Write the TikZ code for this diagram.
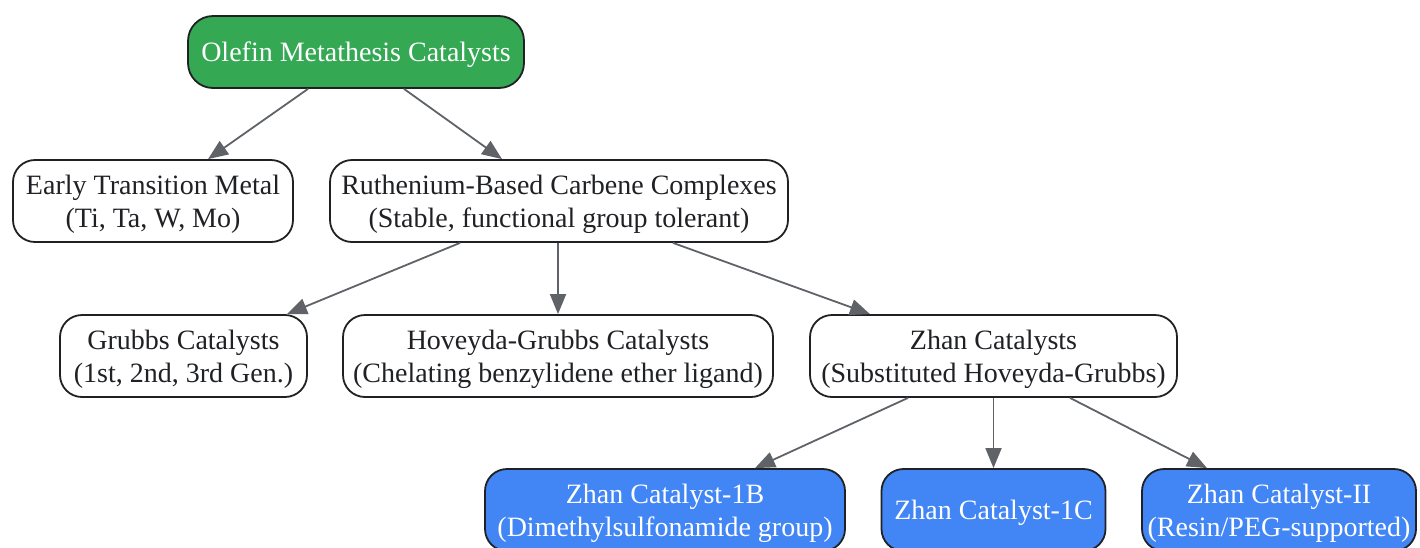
\documentclass[tikz,border=0pt]{standalone}
\usepackage{fontspec}
\setmainfont{Liberation Serif}
\usetikzlibrary{arrows.meta}
\definecolor{rootgreen}{HTML}{34A853}
\definecolor{leafblue}{HTML}{4285F4}
\definecolor{edgegray}{HTML}{5F6368}
\definecolor{bordercol}{HTML}{202124}
\definecolor{textcol}{HTML}{202124}
\newcommand{\toprl}{\rule{0pt}{26pt}}
\newcommand{\botrl}{\rule[-5pt]{0pt}{5pt}}
\tikzset{
  box/.style={draw=bordercol, line width=1.8pt, rounded corners=22pt, fill=white,
    text=textcol, align=center, inner sep=0pt,
    font=\fontsize{28}{33}\selectfont},
  rootbox/.style={box, fill=rootgreen, text=white, rounded corners=25pt},
  leafbox/.style={box, fill=leafblue, text=white},
  conn/.style={draw=edgegray, line width=1.8pt, -{Triangle[length=20pt,width=16pt]}},
}
\begin{document}
\begin{tikzpicture}[x=1pt,y=-1pt]
\useasboundingbox (0,0) rectangle (1420,547);
\node[rootbox, minimum width=336pt, minimum height=72pt] (root) at (356,52) {\toprl Olefin Metathesis Catalysts\botrl};
\node[box, minimum width=280pt, minimum height=82pt] (early) at (153,201) {\toprl Early Transition Metal\\(Ti, Ta, W, Mo)\botrl};
\node[box, minimum width=458pt, minimum height=82pt] (ru) at (559,201) {\toprl Ruthenium-Based Carbene Complexes\\(Stable, functional group tolerant)\botrl};
\node[box, minimum width=247pt, minimum height=82pt] (grubbs) at (183.5,356) {\toprl Grubbs Catalysts\\(1st, 2nd, 3rd Gen.)\botrl};
\node[box, minimum width=430pt, minimum height=82pt] (hov) at (558,356) {\toprl Hoveyda-Grubbs Catalysts\\(Chelating benzylidene ether ligand)\botrl};
\node[box, minimum width=367pt, minimum height=82pt] (zhan) at (993.5,356) {\toprl Zhan Catalysts\\(Substituted Hoveyda-Grubbs)\botrl};
\node[leafbox, minimum width=360pt, minimum height=82pt] (z1b) at (665,510) {\toprl Zhan Catalyst-1B\\(Dimethylsulfonamide group)\botrl};
\node[leafbox, minimum width=224pt, minimum height=82pt] (z1c) at (993.5,510) {\toprl Zhan Catalyst-1C\botrl};
\node[leafbox, minimum width=274pt, minimum height=82pt] (zii) at (1279,510) {\toprl Zhan Catalyst-II\\(Resin/PEG-supported)\botrl};
\draw[conn] ([xshift=-48pt]root.south) -- ([xshift=55pt]early.north);
\draw[conn] ([xshift=48pt]root.south) -- ([xshift=-57pt]ru.north);
\draw[conn] ([xshift=-99pt]ru.south) -- ([xshift=103.5pt]grubbs.north);
\draw[conn] ([xshift=-1pt]ru.south) -- (hov.north);
\draw[conn] ([xshift=114pt]ru.south) -- ([xshift=-123.5pt]zhan.north);
\draw[conn] ([xshift=-85.5pt]zhan.south) -- ([xshift=90pt]z1b.north);
\draw[conn] (zhan.south) -- (z1c.north);
\draw[conn] ([xshift=76.5pt]zhan.south) -- ([xshift=-72pt]zii.north);
\end{tikzpicture}
\end{document}
